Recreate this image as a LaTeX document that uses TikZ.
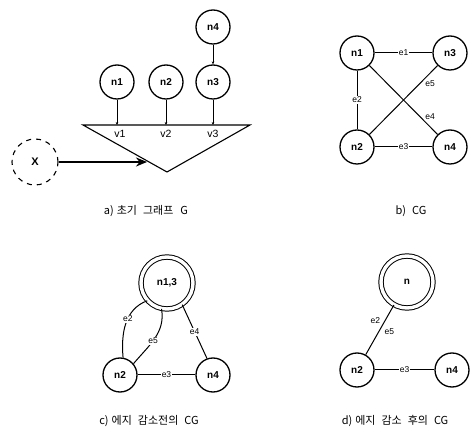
\documentclass[tikz,border=0pt]{standalone}
\usepackage{fontspec}
\setmainfont{Liberation Sans}
\newfontfamily\kor{Noto Sans CJK KR}
\usetikzlibrary{arrows.meta}
\begin{document}
\begin{tikzpicture}[x=1pt,y=-1pt,
  vtx/.style={circle,draw,line width=1.3pt,minimum size=34pt,inner sep=0pt,font=\fontsize{10}{10}\selectfont\bfseries},
  bigvtx/.style={circle,draw,line width=1pt,double,double distance=3.4pt,minimum size=52pt,inner sep=0pt,font=\fontsize{10}{10}\selectfont\bfseries},
  lnk/.style={line width=1pt},
  elbl/.style={font=\fontsize{8.5}{8.5}\selectfont,inner sep=1pt,fill=white},
  elbln/.style={font=\fontsize{8.5}{8.5}\selectfont,inner sep=1pt},
  vlbl/.style={font=\fontsize{10.5}{10.5}\selectfont,inner sep=0pt},
  captxt/.style={font=\kor\fontsize{11}{11}\selectfont,inner sep=0pt},
  smallarr/.style={-{Stealth[length=3pt,width=2.6pt]},line width=0.9pt},
]
\useasboundingbox (0,0) rectangle (472,430);

% ---------- a) ----------
\node[vtx] (a1) at (117,82) {n1};
\node[vtx] (a2) at (166,82) {n2};
\node[vtx] (a3) at (213,82) {n3};
\node[vtx] (a4) at (213,27) {n4};
\coordinate (tl) at (83,125);
\coordinate (tr) at (250,125);
\coordinate (tb) at (167,172);
\draw[line width=1.1pt,line join=miter] (tl) -- (tr) -- (tb) -- cycle;
\coordinate (v1) at (117,125);
\coordinate (v2) at (166,125);
\coordinate (v3) at (213,125);
\draw[smallarr] (a1) -- (v1);
\draw[smallarr] (a2) -- (v2);
\draw[smallarr] (a3) -- (v3);
\draw[smallarr] (a4) -- (a3);
\node[vlbl] (l1) at (120,134) {v1};
\node[vlbl] (l2) at (166,134) {v2};
\node[vlbl] (l3) at (213,134) {v3};
\node[circle,draw,dash pattern=on 5pt off 5pt,line width=1.1pt,minimum size=46pt,inner sep=0pt,font=\fontsize{11}{11}\selectfont\bfseries] (X) at (35,162) {X};
\coordinate (xe) at (147,162);
\draw[line width=2.2pt,-{Stealth[length=11pt,width=9pt]}] (X) -- (xe);
\node[captxt] (capa) at (146,211) {a)\hspace{3pt}초기\hspace{6pt}그래프\hspace{7pt}G};

% ---------- b) ----------
\node[vtx] (b1) at (357,53) {n1};
\node[vtx] (b3) at (450,53) {n3};
\node[vtx] (b2) at (357,147) {n2};
\node[vtx] (b4) at (450,147) {n4};
\draw[lnk] (b1) -- node[elbl]{e1} (b3);
\draw[lnk] (b1) -- node[elbl]{e2} (b2);
\draw[lnk] (b2) -- node[elbl]{e3} (b4);
\draw[lnk] (b1) -- node[elbln,pos=0.8,anchor=south west]{e4} (b4);
\draw[lnk] (b2) -- node[elbln,pos=0.8,anchor=north west]{e5} (b3);
\node[captxt] (capb) at (411,211) {b)\hspace{6pt}CG};

% ---------- c) ----------
\node[bigvtx] (c13) at (167,283) {n1,3};
\node[vtx] (c2) at (120,375) {n2};
\node[vtx] (c4) at (213,375) {n4};
\draw[lnk] (c13.222) to[out=200,in=95] node[elbl,pos=0.42]{e2} (c2.80);
\draw[lnk] (c13.258) to[out=280,in=50] node[elbl,pos=0.55]{e5} (c2.40);
\draw[lnk] (c13.-55) -- node[elbl,pos=0.5]{e4} (c4.110);
\draw[lnk] (c2) -- node[elbl]{e3} (c4);
\node[captxt] (capc) at (149,421) {c)\hspace{3pt}에지\hspace{6pt}감소전의\hspace{6pt}CG};

% ---------- d) ----------
\node[bigvtx] (dn) at (407,282) {n};
\node[vtx] (d2) at (357,370) {n2};
\node[vtx] (d4) at (452,370) {n4};
\draw[lnk] (dn) -- node[elbln,pos=0.4,anchor=south east,xshift=-1pt]{e2} node[elbln,pos=0.45,anchor=north west,xshift=2pt]{e5} (d2);
\draw[lnk] (d2) -- node[elbl]{e3} (d4);
\node[captxt] (capd) at (395,421) {d)\hspace{3pt}에지\hspace{6pt}감소\hspace{6pt}후의\hspace{6pt}CG};
\end{tikzpicture}
\end{document}
